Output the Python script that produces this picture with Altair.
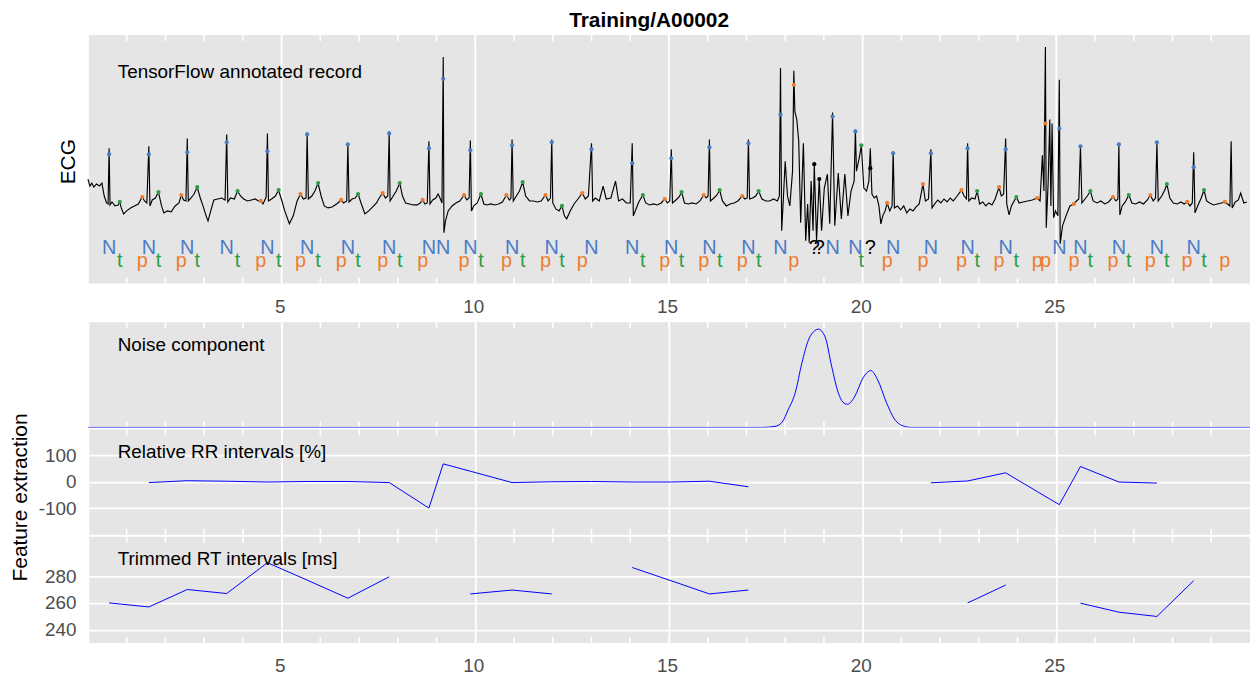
import altair as alt
import pandas as pd

FONT = "Liberation Sans"
PANEL = "#E5E5E5"
W = 1170          # plot width (0..30 s)
ECG_H = 250       # grey ECG panel height
ECG_BLOCK = 287   # ECG block incl. room for its x labels
NOISE_H, RR_H, RT_H = 106, 106, 107

# ---------------- data ----------------
x_domain = [0, 30]
grid_secs = [0, 5, 10, 15, 20, 25]
tick_secs = [1, 2, 3, 4, 5, 6, 7, 8, 9, 10, 11, 12, 13, 14, 15, 16, 17, 18, 19, 20,
             21, 22, 23, 24, 25, 26, 27, 28, 29]

# ECG trace: (time [s], amplitude [mV])
ecg_trace = [
    (0.00, 0.44), (0.05, 0.30), (0.10, 0.36), (0.15, 0.28), (0.22, 0.34), (0.30, 0.30), (0.36, 0.36),
    (0.42, 0.10), (0.48, -0.04), (0.52, -0.06), (0.546, 1.06), (0.57, -0.08), (0.62, -0.02), (0.70, -0.10),
    (0.78, -0.08), (0.82, -0.02), (0.86, -0.14), (0.92, -0.26), (1.00, -0.20), (1.10, -0.14), (1.20, -0.10),
    (1.30, -0.06), (1.40, 0.08), (1.46, 0.00), (1.52, -0.04), (1.572, 1.10), (1.60, -0.10), (1.66, 0.02),
    (1.74, 0.06), (1.82, 0.18), (1.90, -0.10), (1.96, -0.24), (2.05, -0.20), (2.15, -0.22), (2.25, -0.10),
    (2.35, -0.04), (2.41, 0.12), (2.47, 0.02), (2.53, 0.00), (2.564, 1.26), (2.59, 0.00), (2.66, 0.06),
    (2.74, 0.14), (2.82, 0.28), (2.90, 0.06), (2.97, -0.10), (3.05, -0.30), (3.10, -0.40), (3.17, -0.20),
    (3.25, 0.02), (3.35, 0.04), (3.45, 0.06), (3.54, 0.02), (3.582, 1.34), (3.61, -0.02), (3.68, 0.06),
    (3.78, 0.04), (3.86, 0.20), (3.94, 0.10), (4.02, 0.04), (4.12, 0.00), (4.22, 0.02), (4.32, 0.04),
    (4.40, 0.00), (4.46, 0.00), (4.52, -0.06), (4.60, 0.08), (4.633, 1.36), (4.66, 0.00), (4.74, 0.04),
    (4.84, 0.10), (4.92, 0.22), (5.00, 0.02), (5.08, -0.20), (5.20, -0.46), (5.30, -0.30), (5.40, 0.00),
    (5.487, 0.14), (5.56, 0.04), (5.63, 0.06), (5.659, 1.38), (5.69, 0.04), (5.78, 0.10), (5.86, 0.20),
    (5.94, 0.36), (6.02, 0.10), (6.10, -0.10), (6.20, -0.14), (6.30, -0.12), (6.42, -0.06), (6.538, 0.02),
    (6.60, -0.04), (6.68, 0.00), (6.71, 1.16), (6.74, -0.02), (6.82, 0.04), (6.90, 0.06), (6.974, 0.14),
    (7.05, -0.04), (7.15, -0.26), (7.25, -0.20), (7.35, -0.12), (7.45, -0.04), (7.52, 0.06), (7.608, 0.16),
    (7.68, 0.06), (7.74, 0.10), (7.777, 1.40), (7.80, 0.00), (7.88, 0.10), (7.96, 0.20), (8.05, 0.36),
    (8.12, 0.10), (8.20, -0.04), (8.30, -0.06), (8.40, -0.08), (8.50, -0.08), (8.58, -0.04), (8.64, 0.02),
    (8.70, -0.06), (8.76, -0.04), (8.803, 1.20), (8.83, -0.06), (8.90, 0.02), (8.98, 0.06), (9.04, 0.14),
    (9.10, 0.04), (9.14, -0.04), (9.172, 2.90), (9.19, -0.64), (9.23, -0.40), (9.30, -0.20), (9.40, -0.10),
    (9.50, -0.04), (9.60, 0.00), (9.71, 0.12), (9.78, 0.02), (9.84, 0.06), (9.872, 1.22), (9.90, -0.20),
    (9.96, -0.10), (10.05, -0.04), (10.146, 0.14), (10.22, -0.06), (10.30, -0.08), (10.40, -0.06),
    (10.50, -0.08), (10.60, -0.06), (10.70, -0.02), (10.803, 0.12), (10.88, 0.02), (10.92, 0.06),
    (10.949, 1.24), (10.98, 0.00), (11.06, 0.10), (11.14, 0.20), (11.223, 0.38), (11.30, 0.10),
    (11.40, 0.00), (11.50, 0.00), (11.60, -0.02), (11.70, 0.00), (11.813, 0.12), (11.88, 0.00),
    (11.94, 0.06), (11.974, 1.24), (12.00, -0.04), (12.08, -0.16), (12.16, -0.20), (12.238, -0.10),
    (12.30, -0.30), (12.36, -0.36), (12.45, -0.20), (12.55, -0.06), (12.65, 0.04), (12.762, 0.16),
    (12.84, 0.04), (12.92, 0.10), (13.00, 1.16), (13.03, 0.00), (13.10, 0.06), (13.20, 0.00), (13.30, 0.30),
    (13.38, 0.04), (13.50, 0.06), (13.62, 0.40), (13.70, 0.00), (13.80, 0.04), (13.90, -0.04), (14.00, -0.04),
    (14.051, 1.16), (14.08, -0.30), (14.15, -0.16), (14.22, -0.02), (14.326, 0.12), (14.40, -0.04),
    (14.50, -0.08), (14.60, -0.06), (14.70, -0.08), (14.80, -0.04), (14.89, 0.04), (14.96, -0.04),
    (15.02, 0.00), (15.059, 1.04), (15.09, -0.04), (15.18, 0.02), (15.26, 0.08), (15.326, 0.18),
    (15.40, -0.04), (15.50, -0.06), (15.60, -0.04), (15.70, -0.06), (15.80, 0.00), (15.897, 0.12),
    (15.96, 0.06), (16.01, 0.10), (16.044, 1.24), (16.07, 0.00), (16.16, 0.06), (16.24, 0.12),
    (16.308, 0.22), (16.38, 0.00), (16.48, -0.10), (16.58, -0.06), (16.68, -0.04), (16.78, 0.00),
    (16.89, 0.10), (16.96, 0.04), (17.02, 0.06), (17.051, 1.24), (17.08, 0.04), (17.16, 0.06),
    (17.24, 0.10), (17.315, 0.20), (17.40, 0.04), (17.50, 0.00), (17.60, 0.00), (17.70, 0.04),
    (17.80, 0.00), (17.85, 0.10), (17.879, 2.68), (17.91, -0.60), (17.95, 0.00), (18.00, 0.80),
    (18.06, 0.10), (18.12, -0.10), (18.19, 0.60), (18.223, 2.62), (18.25, 1.80), (18.30, 1.64),
    (18.35, 1.20), (18.40, -0.44), (18.47, 1.16), (18.53, -0.80), (18.58, -0.06), (18.62, -0.84),
    (18.67, 0.40), (18.72, -0.60), (18.751, 0.74), (18.81, -0.80), (18.879, 0.44), (18.94, -0.60),
    (19.01, 0.26), (19.09, 0.54), (19.15, -0.46), (19.223, 1.78), (19.28, -0.50), (19.37, 0.56),
    (19.45, -0.36), (19.54, 0.54), (19.62, -0.30), (19.70, 0.20), (19.78, 0.40), (19.813, 1.44),
    (19.84, 0.60), (19.92, 0.90), (19.967, 1.12), (20.03, 0.26), (20.10, 0.20), (20.16, 0.40),
    (20.197, 1.06), (20.24, 0.14), (20.30, 0.06), (20.36, 0.10), (20.42, -0.10), (20.47, -0.46),
    (20.52, -0.30), (20.58, -0.20), (20.633, -0.04), (20.70, -0.20), (20.76, -0.10), (20.787, 1.00),
    (20.82, -0.14), (20.90, -0.10), (20.98, -0.18), (21.06, -0.10), (21.14, -0.24), (21.22, -0.16),
    (21.30, -0.20), (21.38, -0.12), (21.46, -0.06), (21.556, 0.34), (21.62, 0.00), (21.70, 0.04),
    (21.762, 1.04), (21.79, -0.14), (21.86, -0.06), (21.94, 0.02), (22.02, -0.04), (22.10, 0.04),
    (22.18, -0.02), (22.26, 0.06), (22.34, 0.00), (22.42, 0.08), (22.551, 0.22), (22.62, 0.10),
    (22.68, 0.04), (22.71, 1.16), (22.74, 0.00), (22.82, 0.06), (22.90, 0.04), (22.956, 0.20),
    (23.02, -0.06), (23.10, -0.02), (23.18, -0.10), (23.26, -0.04), (23.34, -0.08), (23.42, 0.04),
    (23.521, 0.28), (23.58, 0.10), (23.64, 0.14), (23.692, 1.26), (23.72, -0.06), (23.78, -0.28),
    (23.84, -0.10), (23.967, 0.08), (24.04, -0.04), (24.14, -0.02), (24.26, 0.00), (24.38, 0.02),
    (24.505, 0.06), (24.58, 0.00), (24.64, 0.92), (24.68, 0.20), (24.718, 3.10), (24.74, -0.54),
    (24.79, 0.40), (24.83, 1.64), (24.86, -0.10), (24.89, 1.56), (24.93, -0.34), (24.98, -0.20),
    (25.04, -0.30), (25.077, 2.44), (25.10, -0.86), (25.16, -0.50), (25.25, -0.30), (25.35, -0.10),
    (25.454, -0.06), (25.52, 0.00), (25.58, 0.04), (25.623, 1.10), (25.66, -0.04), (25.74, 0.04),
    (25.80, 0.10), (25.879, 0.20), (25.95, 0.00), (26.05, -0.04), (26.15, 0.00), (26.25, -0.06),
    (26.35, -0.02), (26.462, 0.08), (26.54, 0.00), (26.59, 0.04), (26.615, 1.14), (26.64, -0.28),
    (26.70, -0.10), (26.78, -0.02), (26.872, 0.12), (26.95, -0.04), (27.05, -0.06), (27.15, -0.02),
    (27.25, -0.06), (27.35, 0.02), (27.428, 0.12), (27.50, 0.00), (27.56, 0.06), (27.597, 1.18),
    (27.63, 0.00), (27.72, 0.10), (27.80, 0.22), (27.854, 0.34), (27.93, 0.06), (28.02, -0.04),
    (28.12, -0.06), (28.22, -0.02), (28.30, -0.06), (28.377, -0.02), (28.45, -0.10), (28.51, -0.04),
    (28.546, 0.98), (28.58, -0.24), (28.66, -0.08), (28.74, 0.06), (28.813, 0.22), (28.88, 0.00),
    (28.96, -0.04), (29.06, -0.08), (29.16, -0.06), (29.26, -0.04), (29.351, -0.02), (29.42, -0.06),
    (29.48, -0.10), (29.513, 1.20), (29.54, -0.14), (29.62, -0.02), (29.70, 0.02), (29.76, 0.16),
    (29.84, -0.04), (29.92, -0.02),
]

# annotations (time [s], amplitude [mV])
r_time = [0.546, 1.572, 2.564, 3.582, 4.633, 5.659, 6.710, 7.777, 8.803, 9.172, 9.872, 10.949,
          11.974, 13.000, 14.051, 15.059, 16.044, 17.051, 17.879, 19.223, 19.813, 20.787, 21.762,
          22.710, 23.692, 25.077, 25.623, 26.615, 27.597, 28.546]
r_mv = [0.94, 0.94, 0.98, 1.18, 1.00, 1.34, 1.14, 1.36, 1.06, 2.46, 1.02, 1.12, 1.18, 1.04, 0.76,
        0.86, 1.08, 1.16, 1.74, 1.70, 1.40, 0.96, 0.96, 1.06, 1.04, 1.46, 1.10, 1.14, 1.18, 0.68]
p_time = [1.403, 2.410, 4.462, 5.487, 6.538, 7.608, 8.641, 9.710, 10.803, 11.813, 12.762, 14.890,
          15.897, 16.890, 18.223, 20.633, 21.556, 22.551, 23.521, 24.505, 24.718, 25.454, 26.462,
          27.428, 28.377, 29.351]
p_mv = [0.08, 0.12, 0.00, 0.14, 0.02, 0.16, 0.02, 0.12, 0.12, 0.12, 0.16, 0.04, 0.12, 0.10, 2.34,
        -0.04, 0.34, 0.22, 0.28, 0.06, 1.56, -0.06, 0.08, 0.12, -0.02, -0.02]
t_time = [0.821, 1.821, 2.821, 3.864, 4.923, 5.941, 6.974, 8.051, 10.146, 11.223, 12.238, 14.326,
          15.326, 16.308, 17.315, 19.967, 22.956, 23.967, 25.879, 26.872, 27.854, 28.813]
t_mv = [-0.02, 0.18, 0.28, 0.20, 0.22, 0.36, 0.14, 0.36, 0.14, 0.38, -0.10, 0.12, 0.18, 0.22, 0.20,
        1.12, 0.20, 0.08, 0.20, 0.12, 0.34, 0.22]
q_time = [18.751, 18.879, 20.197]
q_mv = [0.74, 0.44, 0.66]

# noise component
noise_time = [0.0, 17.40, 17.74, 17.92, 18.08, 18.26, 18.43, 18.60, 18.77, 18.85, 19.03, 19.20,
              19.37, 19.49, 19.61, 19.79, 20.01, 20.21, 20.39, 20.61, 20.82, 21.08, 21.25, 30.0]
noise_val = [0.0, 0.0, 0.01, 0.05, 0.17, 0.33, 0.61, 0.83, 0.92, 0.934, 0.86, 0.58, 0.33, 0.24,
             0.22, 0.29, 0.47, 0.54, 0.45, 0.24, 0.08, 0.01, 0.0, 0.0]

# relative RR intervals [%]
rr_time = [1.572, 2.564, 3.582, 4.633, 5.659, 6.710, 7.777, 8.803, 9.172, 9.872, 10.949, 11.974,
           13.000, 14.051, 15.059, 16.044, 17.051,
           21.762, 22.710, 23.692, 25.077, 25.623, 26.615, 27.597]
rr_pct = [-3, 4, 2, -1, 1, 1, -3, -100, 68, 40, -3, 0, 1, -1, -1, 2, -19,
          -4, 3, 34, -87, 58, -1, -5]
rr_seg = [1, 1, 1, 1, 1, 1, 1, 1, 1, 1, 1, 1, 1, 1, 1, 1, 1,
          2, 2, 2, 2, 2, 2, 2]

# trimmed RT intervals [ms]
rt_time = [0.546, 1.572, 2.564, 3.582, 4.633, 5.659, 6.710, 7.777,
           9.872, 10.949, 11.974,
           14.051, 15.059, 16.044, 17.051,
           22.710, 23.692,
           25.623, 26.615, 27.597, 28.546]
rt_ms = [260, 257, 270, 267, 290, 277, 263.5, 279.5,
         266.7, 269.6, 266.7,
         286.4, 276.5, 266.7, 269.6,
         260, 273.3,
         259.8, 253.1, 249.9, 276.6]
rt_seg = [1, 1, 1, 1, 1, 1, 1, 1, 2, 2, 2, 3, 3, 3, 3, 4, 4, 5, 5, 5, 5]

kinds = ["N", "p", "t", "?"]
kind_colors = ["#4A7CC6", "#EE7D31", "#2D9E45", "#000000"]

# ---------------- frames ----------------
ecg_df = pd.DataFrame(ecg_trace, columns=["t", "v"])
ann_df = pd.DataFrame({
    "t": r_time + p_time + t_time + q_time,
    "v": r_mv + p_mv + t_mv + q_mv,
    "kind": ["N"] * len(r_time) + ["p"] * len(p_time) + ["t"] * len(t_time) + ["?"] * len(q_time),
})
noise_df = pd.DataFrame({"t": noise_time, "v": noise_val})
rr_df = pd.DataFrame({"t": rr_time, "v": rr_pct, "seg": rr_seg})
rt_df = pd.DataFrame({"t": rt_time, "v": rt_ms, "seg": rt_seg})
grid_df = pd.DataFrame({"t": grid_secs})
tick_df = pd.DataFrame({"t": tick_secs})

xs = alt.Scale(domain=x_domain, nice=False, zero=False)
LABEL_STYLE = dict(labelFont=FONT, labelFontSize=19, labelColor="#4D4D4D")
hide_zero = "datum.value == 0 ? '' : datum.label"


def x_enc(labels, grid, offset=0):
    ax = alt.Axis(values=grid_secs, ticks=False, tickSize=0, domain=False, title=None,
                  labels=labels, grid=grid, gridColor="white", gridWidth=1.8, gridOpacity=1,
                  labelPadding=14, labelExpr=hide_zero, labelOverlap=False, labelOffset=-2,
                  offset=offset, **LABEL_STYLE)
    return alt.X("t:Q", scale=xs, axis=ax)


def edge_ticks(h, xe):
    top = alt.Chart(tick_df).mark_rule(color="white", strokeWidth=1.6).encode(
        x=xe, y=alt.value(0), y2=alt.value(6))
    bot = alt.Chart(tick_df).mark_rule(color="white", strokeWidth=1.6).encode(
        x=xe, y=alt.value(h - 6), y2=alt.value(h))
    return [top, bot]


def label_text(text, ypx, size=19):
    return alt.Chart(pd.DataFrame({"s": [text]})).mark_text(
        align="left", baseline="alphabetic", font=FONT, fontSize=size, color="black"
    ).encode(x=alt.value(30), y=alt.value(ypx), text="s:N")


color_enc = alt.Color("kind:N", scale=alt.Scale(domain=kinds, range=kind_colors), legend=None)

# ---------------- ECG panel ----------------
xe_ecg = x_enc(True, False, offset=ECG_H - ECG_BLOCK)
y_ecg = alt.Y("v:Q", scale=alt.Scale(domain=[-1.66, 3.34], range=[ECG_H, 0], nice=False, zero=False),
              axis=alt.Axis(labels=False, ticks=False, grid=False, domain=False, title="ECG",
                            titleFont=FONT, titleFontSize=21, titleFontWeight="normal",
                            titleColor="black", titleX=-13.5, titleY=127, titleAngle=270,
                            titleBaseline="alphabetic", titleAlign="center"))

bg = alt.Chart(pd.DataFrame({"a": [0]})).mark_rect(color=PANEL).encode(
    x=alt.value(0), x2=alt.value(W), y=alt.value(0), y2=alt.value(ECG_H))
vgrid = alt.Chart(grid_df).mark_rule(color="white", strokeWidth=1.8).encode(
    x=xe_ecg, y=alt.value(0), y2=alt.value(ECG_H))
trace = alt.Chart(ecg_df).mark_line(color="black", strokeWidth=1.15).encode(x=xe_ecg, y=y_ecg)
dots = alt.Chart(ann_df).mark_circle(size=18, opacity=1).encode(x=xe_ecg, y=y_ecg, color=color_enc)
lab_top = alt.Chart(ann_df).transform_filter(
    alt.FieldOneOfPredicate(field="kind", oneOf=["N", "?"])
).mark_text(font=FONT, fontSize=20, baseline="alphabetic", align="center").encode(
    x=xe_ecg, y=alt.value(220.3), text="kind:N", color=color_enc)
lab_bot = alt.Chart(ann_df).transform_filter(
    alt.FieldOneOfPredicate(field="kind", oneOf=["p", "t"])
).mark_text(font=FONT, fontSize=20, baseline="alphabetic", align="center").encode(
    x=xe_ecg, y=alt.value(233), text="kind:N", color=color_enc)
title_txt = alt.Chart(pd.DataFrame({"s": ["Training/A00002"]})).mark_text(
    align="center", baseline="alphabetic", font=FONT, fontSize=21, fontWeight="bold", color="black"
).encode(x=alt.value(565), y=alt.value(-8), text="s:N")

ecg_chart = alt.layer(
    bg, vgrid, *edge_ticks(ECG_H, xe_ecg), trace, dots, lab_top, lab_bot,
    label_text("TensorFlow annotated record", 42.7), title_txt,
).properties(width=W, height=ECG_BLOCK, view=alt.ViewBackground(fill="white", strokeWidth=0))

# ---------------- noise panel ----------------
xe_hidden = x_enc(False, True)
noise_chart = alt.layer(
    *edge_ticks(NOISE_H, xe_hidden),
    alt.Chart(noise_df).mark_line(color="#0000FF", strokeWidth=1.0, interpolate="monotone", clip=True).encode(
        x=xe_hidden,
        y=alt.Y("v:Q", scale=alt.Scale(domain=[0, 1], nice=False, zero=False), axis=None)),
    label_text("Noise component", 28.7),
).properties(width=W, height=NOISE_H)

# ---------------- RR panel ----------------
neg_hyphen = "datum.value < 0 ? '-' + abs(datum.value) : '' + datum.value"
rr_axis = alt.Axis(values=[-100, 0, 100], grid=True, gridColor="white", gridWidth=1.8, ticks=False,
                   tickSize=0, domain=False, labelPadding=12, labelExpr=neg_hyphen,
                   title="Feature extraction", titleFont=FONT, titleFontSize=21,
                   titleFontWeight="normal", titleColor="black", titleX=-61.5, titleY=68,
                   titleAngle=270, titleBaseline="alphabetic", titleAlign="center", **LABEL_STYLE)
rr_chart = alt.layer(
    *edge_ticks(RR_H, xe_hidden),
    alt.Chart(rr_df).mark_line(color="#0000FF", strokeWidth=1.0).encode(
        x=xe_hidden,
        y=alt.Y("v:Q", scale=alt.Scale(domain=[-201.1, 198.9], nice=False, zero=False), axis=rr_axis),
        detail="seg:N"),
    label_text("Relative RR intervals [%]", 29),
).properties(width=W, height=RR_H)

# ---------------- RT panel ----------------
xe_rt = x_enc(True, True)
rt_axis = alt.Axis(values=[240, 260, 280], grid=True, gridColor="white", gridWidth=1.8, ticks=False,
                   tickSize=0, domain=False, labelPadding=12, title=None, **LABEL_STYLE)
rt_chart = alt.layer(
    *edge_ticks(RT_H, xe_rt),
    alt.Chart(rt_df).mark_line(color="#0000FF", strokeWidth=1.0).encode(
        x=xe_rt,
        y=alt.Y("v:Q", scale=alt.Scale(domain=[230.15, 309.4], nice=False, zero=False), axis=rt_axis),
        detail="seg:N"),
    label_text("Trimmed RT intervals [ms]", 28.7),
).properties(width=W, height=RT_H)

chart = alt.vconcat(
    ecg_chart, noise_chart, rr_chart, rt_chart, spacing=2, bounds="flush"
).properties(
    padding={"left": 1.5, "top": 0, "right": 0, "bottom": 0}, background="white"
).configure(font=FONT).configure_view(fill=PANEL, strokeWidth=0)

chart.save("out.html", embed_options={"renderer": "svg", "actions": False})
